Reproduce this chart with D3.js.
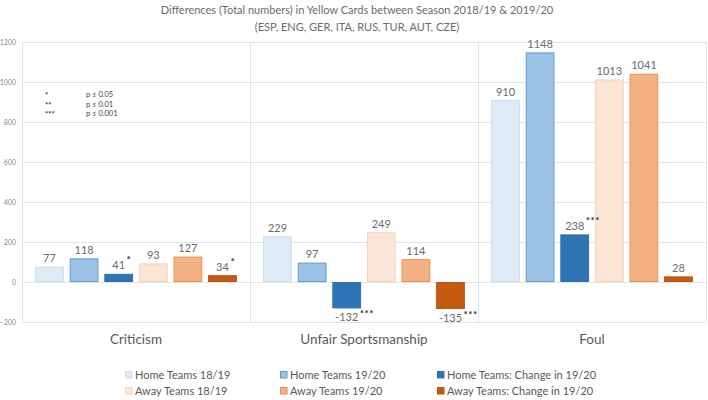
<!DOCTYPE html>
<html>
<head>
<meta charset="utf-8">
<script src="https://cdn.jsdelivr.net/npm/d3@7"></script>
<style>
  html, body { margin: 0; padding: 0; background: #fff; }
  svg { display: block; font-family: Lato, "Open Sans", sans-serif; }
</style>
</head>
<body>
<svg id="chart" width="708" height="400"></svg>
<script>
const categories = ["Criticism", "Unfair Sportsmanship", "Foul"];
const seriesNames = ["Home Teams 18/19", "Home Teams 19/20", "Home Teams: Change in 19/20",
                     "Away Teams 18/19", "Away Teams 19/20", "Away Teams: Change in 19/20"];
const home1819 = [77, 229, 910];
const home1920 = [118, 97, 1148];
const homeChange = [41, -132, 238];
const away1819 = [93, 249, 1013];
const away1920 = [127, 114, 1041];
const awayChange = [34, -135, 28];
const homeChangeSig = ["*", "***", "***"];
const awayChangeSig = ["*", "***", ""];
const yTicks = [-200, 0, 200, 400, 600, 800, 1000, 1200];
const sigSymbols = ["*", "**", "***"];
const sigLabels = ["p \u2264 0.05", "p \u2264 0.01", "p \u2264 0.001"];

const seriesValues = [home1819, home1920, homeChange, away1819, away1920, awayChange];
const seriesSig = [null, null, homeChangeSig, null, null, awayChangeSig];
const fills = ["#DEEBF7", "#9DC3E6", "#2E75B6", "#FBE5D6", "#F4B183", "#C55A11"];
const strokes = ["#CADDF1", "#5B9BD5", "#2E6FAD", "#F7D3BA", "#E58F55", "#BA5410"];

const svg = d3.select("#chart");
const pLeft = 22, pRight = 706, pTop = 42, pBottom = 322;

const x0 = d3.scaleBand().domain(categories).range([pLeft, pRight]).padding(0);
const x1 = d3.scaleBand().domain(d3.range(6)).range([0, x0.bandwidth()])
  .paddingInner(0.17).paddingOuter(0.38);
const y = d3.scaleLinear().domain([-200, 1200]).range([pBottom, pTop]);

// gridlines
svg.append("g")
  .attr("transform", `translate(${pLeft},0)`)
  .call(d3.axisLeft(y).tickValues(yTicks).tickSize(-(pRight - pLeft)).tickFormat(""))
  .call(g => g.select(".domain").remove())
  .call(g => g.selectAll("line").attr("stroke", "#e4e4e4").attr("stroke-width", 1));

// y tick labels
svg.append("g")
  .attr("transform", `translate(16,0)`)
  .call(d3.axisLeft(y).tickValues(yTicks).tickSize(0).tickPadding(0).tickFormat(d3.format("d")))
  .call(g => g.select(".domain").remove())
  .call(g => g.selectAll("text").attr("fill", "#8a8a8a").style("font-size", "7px").attr("font-family", "Lato, sans-serif"));

// vertical separators
const seps = [pLeft].concat(categories.map(c => x0(c) + x0.bandwidth()));
svg.append("g").selectAll("line").data(seps).join("line")
  .attr("x1", d => Math.round(d) + 0.5).attr("x2", d => Math.round(d) + 0.5)
  .attr("y1", pTop).attr("y2", pBottom)
  .attr("stroke", "#e4e4e4");

// bars
const rows = [];
seriesValues.forEach((vals, s) => vals.forEach((v, c) => rows.push({ s, c, v, sig: seriesSig[s] ? seriesSig[s][c] : "" })));

const gBars = svg.append("g");
gBars.selectAll("rect").data(rows).join("rect")
  .attr("x", d => x0(categories[d.c]) + x1(d.s) + 0.5)
  .attr("width", x1.bandwidth() - 1)
  .attr("y", d => y(Math.max(0, d.v)) + 0.5)
  .attr("height", d => Math.max(0, Math.abs(y(d.v) - y(0)) - 1))
  .attr("fill", d => fills[d.s])
  .attr("stroke", d => strokes[d.s])
  .attr("stroke-width", 1);

// labels
const lab = svg.append("g").selectAll("text").data(rows).join("text")
  .attr("x", d => x0(categories[d.c]) + x1(d.s) + x1.bandwidth() / 2)
  .attr("y", d => d.v >= 0 ? y(d.v) - 4.5 : y(d.v) + 13)
  .attr("text-anchor", "middle")
  .attr("fill", "#6b6b6b")
  .style("font-size", "11px");
lab.append("tspan").text(d => d.v);
lab.filter(d => d.sig).append("tspan")
  .attr("dx", 1.5)
  .attr("dy", d => d.v >= 0 ? -6 : -4)
  .attr("fill", "#333")
  .style("font-size", "10px")
  .style("font-weight", "bold")
  .style("letter-spacing", "0.5px")
  .text(d => d.sig);

// keep the number centred over the bar, stars trailing to the right
lab.filter(d => d.sig).each(function(d) {
  const t = d3.select(this);
  const numW = this.firstChild.getComputedTextLength();
  const cx = +t.attr("x");
  t.attr("text-anchor", "start").attr("x", cx - numW / 2);
});

// category labels
svg.append("g").selectAll("text").data(categories).join("text")
  .attr("x", d => x0(d) + x0.bandwidth() / 2)
  .attr("y", 344)
  .attr("text-anchor", "middle")
  .attr("fill", "#595959")
  .style("font-size", "13.5px")
  .text(d => d);

// title
const title = svg.append("text").attr("text-anchor", "middle").attr("fill", "#6b6b6b").style("font-size", "11px");
title.append("tspan").attr("x", 357).attr("y", 14).text("Differences (Total numbers) in Yellow Cards between Season 2018/19 & 2019/20");
title.append("tspan").attr("x", 357).attr("y", 31).text("(ESP, ENG, GER, ITA, RUS, TUR, AUT, CZE)");

// significance legend
const sig = svg.append("g");
sig.selectAll("text.sym").data(sigSymbols).join("text").attr("class", "sym")
  .attr("x", 45).attr("y", (d, i) => 98 + i * 9.5)
  .attr("fill", "#333").style("font-size", "7.5px").style("font-weight", "bold").text(d => d);
sig.selectAll("text.lbl").data(sigLabels).join("text").attr("class", "lbl")
  .attr("x", 86).attr("y", (d, i) => 97 + i * 9.5)
  .attr("fill", "#444").style("font-size", "7.5px").text(d => d);

// legend
const legX = [125, 280, 437];
const legY = [375, 391];
const leg = svg.append("g").selectAll("g").data(seriesNames).join("g")
  .attr("transform", (d, i) => `translate(${legX[i % 3]},${legY[Math.floor(i / 3)]})`);
leg.append("rect").attr("x", 0.5).attr("y", -3.5).attr("width", 6.5).attr("height", 6.5)
  .attr("fill", (d, i) => fills[i]).attr("stroke", (d, i) => strokes[i]);
leg.append("text").attr("x", 10).attr("y", 4).attr("fill", "#595959")
  .style("font-size", "11px").text(d => d);
</script>
</body>
</html>
